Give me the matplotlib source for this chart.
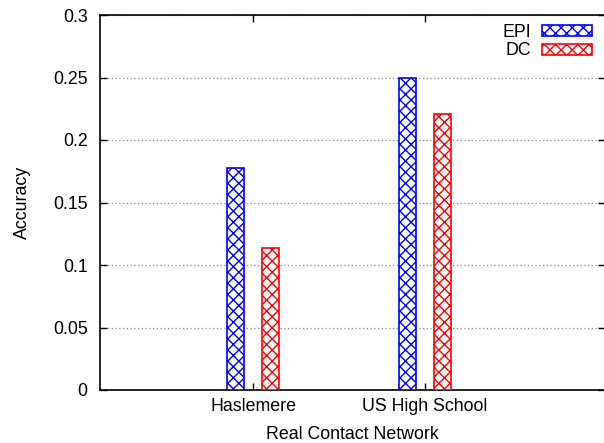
import numpy as np
import matplotlib
matplotlib.use("Agg")
import matplotlib.pyplot as plt

networks = ["Haslemere", "US High School"]
epi = [0.178, 0.25]
dc = [0.114, 0.221]
y_ticks = [0, 0.05, 0.1, 0.15, 0.2, 0.25, 0.3]
y_labels = ["0", "0.05", "0.1", "0.15", "0.2", "0.25", "0.3"]

plt.rcParams['font.family'] = ['Liberation Sans', 'DejaVu Sans']
plt.rcParams['font.size'] = 12.8
plt.rcParams['hatch.linewidth'] = 1.0

fig = plt.figure(figsize=(6.04, 4.43), dpi=100)
ax = fig.add_axes([100/604, 53/443, 505/604, 375/443])

x = np.arange(len(networks))
w = 0.1
ax.bar(x - 0.1, epi, w, facecolor='white', edgecolor='blue', hatch='xxx', lw=1.2, label='EPI', zorder=3)
ax.bar(x + 0.1, dc, w, facecolor='white', edgecolor='red', hatch='xxx', lw=1.2, label='DC', zorder=3)

ax.set_xlim(-0.89, 2.047)
ax.set_ylim(0, 0.3)
ax.set_xticks(x)
ax.set_xticklabels(networks)
ax.set_yticks(y_ticks)
ax.set_yticklabels(y_labels)
ax.tick_params(direction='in', length=5, width=1, top=True, right=True, colors='black')
ax.tick_params(axis='y', pad=9)
ax.tick_params(axis='x', pad=6)
ax.grid(axis='y', linestyle=(0, (1, 2)), color='#888888', lw=0.9, zorder=0)
for s in ax.spines.values():
    s.set_linewidth(1.2)

ax.set_xlabel("Real Contact Network", labelpad=7.5)
ax.set_ylabel("Accuracy", labelpad=16)

leg = ax.legend(loc='upper right', frameon=False, markerfirst=False, handlelength=2.8,
                handleheight=0.58, bbox_to_anchor=(0.988, 0.996), labelspacing=0.1,
                handletextpad=0.63, borderaxespad=0)

fig.savefig("out.png", dpi=100)
